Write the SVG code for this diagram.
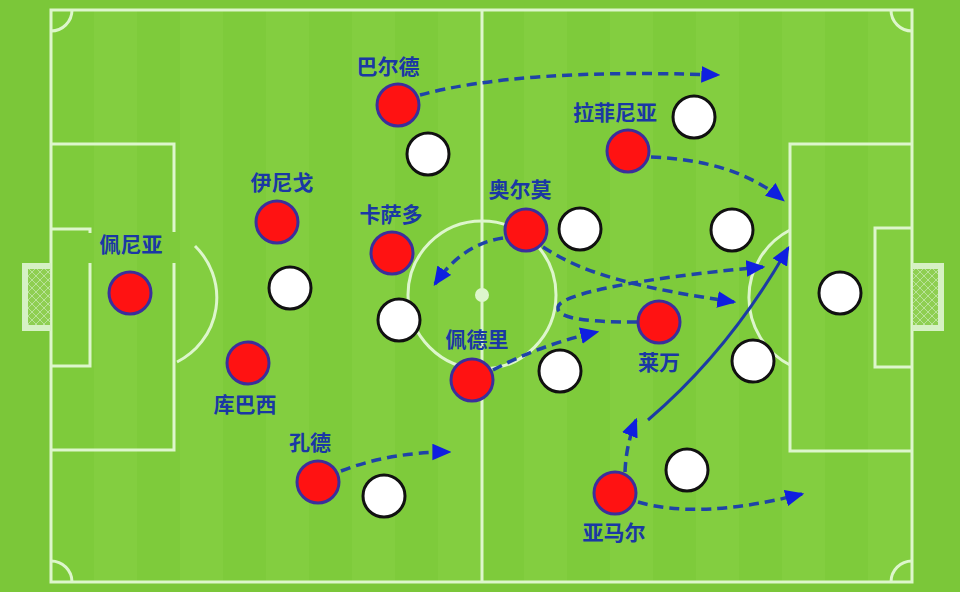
<svg xmlns="http://www.w3.org/2000/svg" width="960" height="592" viewBox="0 0 960 592">
<defs>
<style>
.ln{fill:none;stroke:#ddf6cc;stroke-width:3}
.red{fill:#ff1212;stroke:#3a2f9c;stroke-width:3}
.wht{fill:#ffffff;stroke:#111111;stroke-width:3}
.lbl{font-family:"Noto Sans CJK SC","Noto Sans",sans-serif;font-weight:700;font-size:21px;fill:#1a38a4;text-anchor:middle}
.da{fill:none;stroke:#1f43a8;stroke-width:3.5;stroke-dasharray:10 6;marker-end:url(#ah)}
.so{fill:none;stroke:#1c3ca4;stroke-width:3;marker-end:url(#ah)}
</style>
<marker id="ah" viewBox="0 0 16 14" refX="14" refY="7" markerWidth="19" markerHeight="17" markerUnits="userSpaceOnUse" orient="auto">
<path d="M0,0 L16,7 L0,14 z" fill="#0f1fe0"/>
</marker>
<pattern id="net" width="8" height="8" patternUnits="userSpaceOnUse">
<rect width="8" height="8" fill="#8fcf52"/>
<path d="M0,0 L8,8 M8,0 L0,8" stroke="#b9e39a" stroke-width="1"/>
</pattern>
<pattern id="stripes" width="86" height="592" patternUnits="userSpaceOnUse" x="51">
<rect width="43" height="592" fill="#7ecb3b"/>
<rect x="43" width="43" height="592" fill="#83ce40"/>
</pattern>
</defs>
<rect width="960" height="592" fill="#7bc739"/>
<rect x="51" y="10" width="861" height="572" fill="url(#stripes)"/>
<g id="pitch">
<rect class="ln" x="51" y="10" width="861" height="572"/>
<line class="ln" x1="482" y1="10" x2="482" y2="582"/>
<circle class="ln" cx="482" cy="295" r="74"/>
<circle cx="482" cy="295" r="7" fill="#ddf6cc"/>
<path class="ln" d="M51,31 A21 21 0 0 0 72,10 M891,10 A21 21 0 0 0 912,31 M51,561 A21 21 0 0 1 72,582 M891,582 A21 21 0 0 1 912,561"/>
<path class="ln" d="M51,144 H174 V232 M174,263 V450 H51"/>
<path class="ln" d="M51,229 H90 V233 M90,263 V366 H51"/>
<path class="ln" d="M195,246 A72 72 0 0 1 177,362"/>
<path class="ln" d="M912,144 H790 V451 H912"/>
<path class="ln" d="M912,228 H875 V367 H912"/>
<path class="ln" d="M790,230 A76 76 0 0 0 790,365"/>
<rect x="22" y="263" width="29" height="68" fill="#d6f1c4"/>
<rect x="28" y="269" width="22" height="56" fill="url(#net)"/>
<rect x="912" y="263" width="32" height="68" fill="#d6f1c4"/>
<rect x="913" y="269" width="25" height="56" fill="url(#net)"/>
</g>
<g id="connectors">
<path class="da" d="M420,95 Q520,68 718,75"/>
<path class="da" d="M651,157 Q735,160 783,200"/>
<path class="da" d="M503,238 Q462,244 435,284"/>
<path class="da" d="M543,247 C585,275 640,288 734,302"/>
<path class="da" d="M637,322 C595,322 556,320 558,307 C560,294 640,278 763,267"/>
<path class="da" d="M493,370 Q540,345 597,332"/>
<path class="da" d="M341,471 Q390,452 449,452"/>
<path class="da" d="M625,472 Q626,445 636,420"/>
<path class="so" d="M648,420 Q730,350 788,248"/>
<path class="da" d="M638,502 Q700,520 802,494"/>
</g>
<g id="white-players">
<circle class="wht" cx="428" cy="154" r="21"/>
<circle class="wht" cx="694" cy="117" r="21"/>
<circle class="wht" cx="580" cy="229" r="21"/>
<circle class="wht" cx="732" cy="230" r="21"/>
<circle class="wht" cx="290" cy="288" r="21"/>
<circle class="wht" cx="399" cy="320" r="21"/>
<circle class="wht" cx="560" cy="371" r="21"/>
<circle class="wht" cx="753" cy="361" r="21"/>
<circle class="wht" cx="840" cy="293" r="21"/>
<circle class="wht" cx="687" cy="470" r="21"/>
<circle class="wht" cx="384" cy="496" r="21"/>
</g>
<g id="balde"><circle class="red" cx="398" cy="105" r="21"/><text class="lbl" x="388" y="74">巴尔德</text></g>
<g id="raphinha"><circle class="red" cx="628" cy="151" r="21"/><text class="lbl" x="615" y="120">拉菲尼亚</text></g>
<g id="olmo"><circle class="red" cx="526" cy="230" r="21"/><text class="lbl" x="520" y="197">奥尔莫</text></g>
<g id="pedri"><circle class="red" cx="472" cy="380" r="21"/><text class="lbl" x="477" y="347">佩德里</text></g>
<g id="lewandowski"><circle class="red" cx="659" cy="322" r="21"/><text class="lbl" x="659" y="370">莱万</text></g>
<g id="casado"><circle class="red" cx="392" cy="253" r="21"/><text class="lbl" x="391" y="222">卡萨多</text></g>
<g id="inigo"><circle class="red" cx="277" cy="222" r="21"/><text class="lbl" x="282" y="190">伊尼戈</text></g>
<g id="pena"><circle class="red" cx="130" cy="293" r="21"/><text class="lbl" x="131" y="252">佩尼亚</text></g>
<g id="cubarsi"><circle class="red" cx="248" cy="363" r="21"/><text class="lbl" x="245" y="412">库巴西</text></g>
<g id="kounde"><circle class="red" cx="318" cy="482" r="21"/><text class="lbl" x="310" y="450">孔德</text></g>
<g id="yamal"><circle class="red" cx="615" cy="493" r="21"/><text class="lbl" x="614" y="540">亚马尔</text></g>
</svg>
